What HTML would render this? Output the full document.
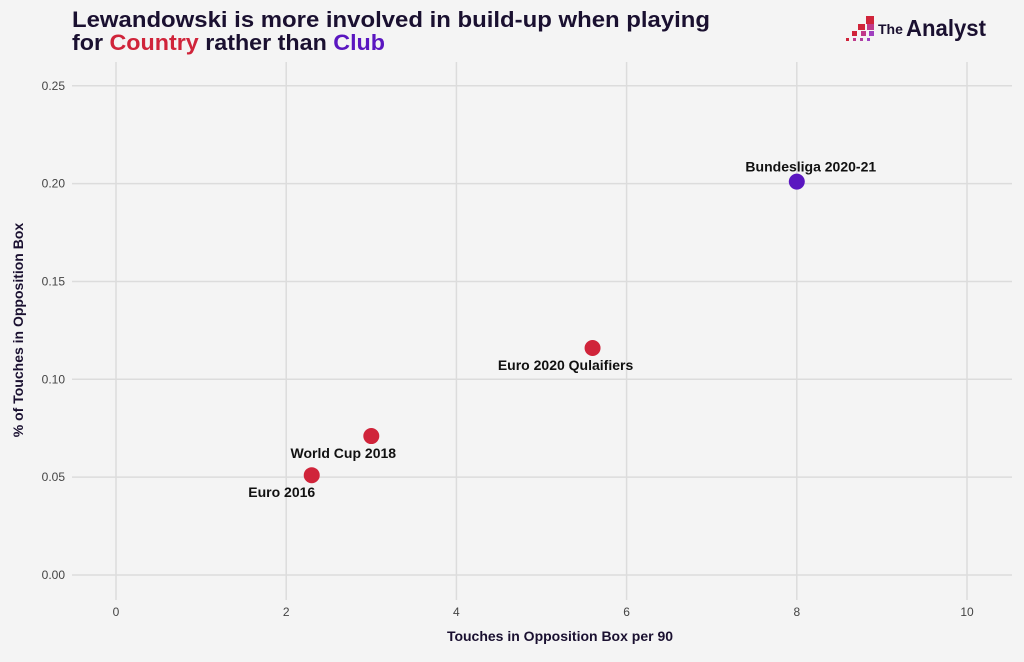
<!DOCTYPE html>
<html><head><meta charset="utf-8"><style>
body{margin:0;background:#f4f4f4;font-family:"Liberation Sans",sans-serif}
</style></head><body>
<svg width="1024" height="657" viewBox="0 0 1024 657" xmlns="http://www.w3.org/2000/svg">
<rect width="1024" height="657" fill="#f4f4f4"/>
<text x="72" y="27" font-size="22" font-weight="bold" fill="#1a1030" textLength="638" lengthAdjust="spacingAndGlyphs">Lewandowski is more involved in build-up when playing</text>
<text x="72" y="50" font-size="22" font-weight="bold" fill="#1a1030" textLength="313" lengthAdjust="spacingAndGlyphs">for <tspan fill="#d0243a">Country</tspan> rather than <tspan fill="#5a16c0">Club</tspan></text>
<g>
<rect x="866" y="16" width="8" height="8" fill="#d0243a"/>
<rect x="858" y="24" width="7" height="6" fill="#d0243a"/><rect x="867" y="24" width="7" height="6" fill="#c03a8a"/>
<rect x="852" y="31" width="5" height="5" fill="#d0243a"/><rect x="861" y="31" width="5" height="5" fill="#c03a8a"/><rect x="869" y="31" width="5" height="5" fill="#a040c0"/>
<rect x="846" y="38" width="3" height="3" fill="#d0243a"/><rect x="853" y="38" width="3" height="3" fill="#c03a8a"/><rect x="860" y="38" width="3" height="3" fill="#b040a0"/><rect x="867" y="38" width="3" height="3" fill="#a040c0"/>
<text x="878" y="34" font-size="14" font-weight="bold" fill="#1a1030">The</text>
<text x="906" y="36" font-size="23" font-weight="bold" fill="#1a1030" textLength="80" lengthAdjust="spacingAndGlyphs">Analyst</text>
</g>
<g id="grid"></g><g id="marks"></g>
<text x="560" y="641" font-size="14" font-weight="bold" fill="#1a1030" text-anchor="middle">Touches in Opposition Box per 90</text>
<text transform="translate(23,330) rotate(-90)" font-size="14" font-weight="bold" fill="#1a1030" text-anchor="middle">% of Touches in Opposition Box</text>
</svg>
<script>
const labels=["Euro 2016","World Cup 2018","Euro 2020 Qulaifiers","Bundesliga 2020-21"];
const xVals=[2.3,3.0,5.6,8.0];
const yVals=[0.051,0.071,0.116,0.201];
const groups=["country","country","country","club"];
const xTicks=[0,2,4,6,8,10];
const yTicks=[0,0.05,0.10,0.15,0.20,0.25];
const NS="http://www.w3.org/2000/svg";
const xs=v=>116+v*85.1;
const ys=v=>575-v*1957;
function mk(t,a,p){const e=document.createElementNS(NS,t);for(const k in a)e.setAttribute(k,a[k]);p.appendChild(e);return e;}
const g=document.getElementById('grid'),m=document.getElementById('marks');
xTicks.forEach(t=>{
 const l=mk('line',{x1:xs(t),x2:xs(t),y1:62,y2:600,stroke:'#dcdcdc','stroke-width':1.5},g);
 
 
 const tx=mk('text',{x:xs(t),y:616,'font-size':12,fill:'#444','text-anchor':'middle'},g);tx.textContent=t;
 
 
});
yTicks.forEach(t=>{
 const l=mk('line',{x1:72,x2:1012,y1:ys(t),y2:ys(t),stroke:'#dcdcdc','stroke-width':1.5},g);
 
 
 const tx=mk('text',{x:65,y:ys(t)+4,'font-size':12,fill:'#444','text-anchor':'end'},g);tx.textContent=t.toFixed(2);
 
 
});
const off=[[-30,22],[-28,22],[-27,22],[14,-10]];
labels.forEach((lb,i)=>{
 const c=mk('circle',{cx:xs(xVals[i]),cy:ys(yVals[i]),r:8,fill:groups[i]==='club'?'#5a16c0':'#d0243a'},m);
 
 
 const tx=mk('text',{x:xs(xVals[i])+off[i][0],y:ys(yVals[i])+off[i][1],'font-size':14,'font-weight':'bold',fill:'#111','text-anchor':'middle'},m);
 tx.textContent=lb;
 
 
});
</script>
</body></html>
